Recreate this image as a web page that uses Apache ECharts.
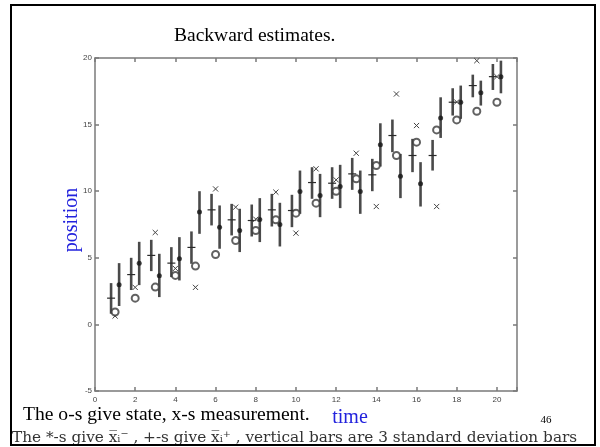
<!DOCTYPE html>
<html>
<head>
<meta charset="utf-8">
<script src="https://cdn.jsdelivr.net/npm/echarts@6/dist/echarts.min.js"></script>
<style>
  html, body { margin: 0; padding: 0; background: #fff; }
  #chart { width: 600px; height: 447px; }
</style>
</head>
<body>
<div id="chart"></div>
<script>
// Time steps
const time = [1, 2, 3, 4, 5, 6, 7, 8, 9, 10, 11, 12, 13, 14, 15, 16, 17, 18, 19, 20];
// True state (o) and measurements (x)
const stateO = [0.93, 1.97, 2.8, 3.68, 4.38, 5.25, 6.3, 7.05, 7.85, 8.35, 9.1, 10.0, 10.93, 11.93, 12.68, 13.68, 14.6, 15.35, 16.0, 16.68];
const measX = [0.63, 2.78, 6.9, 4.2, 2.78, 10.17, 8.8, 7.9, 9.93, 6.85, 11.68, 10.85, 12.85, 8.85, 17.3, 14.93, 8.85, 16.7, 19.8, 18.6];
// Estimates marked with + and their 3-sigma bar ends
const plusMean = [1.97, 3.74, 5.18, 4.6, 5.78, 8.6, 7.85, 7.8, 8.6, 8.55, 10.65, 10.6, 11.3, 11.23, 14.18, 12.68, 12.68, 16.68, 17.93, 18.6];
const plusLow = [0.8, 2.58, 4.0, 3.55, 4.55, 7.43, 6.68, 6.6, 7.35, 7.3, 9.43, 9.43, 10.1, 10.0, 12.93, 11.43, 11.55, 15.68, 17.05, 17.6];
const plusHigh = [3.1, 5.0, 6.35, 5.8, 6.98, 9.8, 9.05, 9.0, 9.8, 9.73, 11.8, 11.8, 12.5, 12.43, 15.38, 13.93, 13.85, 17.73, 18.75, 19.55];
// Estimates marked with * and their 3-sigma bar ends
const starMean = [2.98, 4.6, 3.66, 4.93, 8.43, 7.3, 7.05, 7.88, 7.5, 9.98, 9.68, 10.35, 9.98, 13.48, 11.13, 10.55, 15.5, 16.68, 17.4, 18.6];
const starLow = [1.38, 2.95, 2.05, 3.3, 6.8, 5.68, 5.43, 6.18, 5.85, 8.3, 8.05, 8.73, 8.3, 11.85, 9.48, 8.85, 14.0, 15.43, 16.43, 17.35];
const starHigh = [4.6, 6.2, 5.3, 6.55, 10.0, 8.93, 8.68, 9.48, 9.13, 11.55, 11.3, 11.98, 11.55, 15.1, 12.8, 12.18, 17.05, 17.93, 18.3, 19.8];
// Axis ticks
const xTicks = [0, 2, 4, 6, 8, 10, 12, 14, 16, 18, 20];
const yTicks = [-5, 0, 5, 10, 15, 20];

const shift = 0.2; // + and * columns sit either side of each time step

const barColor = '#4a4a4a';
const markColor = '#2a2a2a';

function barItem(params, api) {
  const p1 = api.coord([api.value(0), api.value(1)]);
  const p2 = api.coord([api.value(0), api.value(2)]);
  return { type: 'line', shape: { x1: p1[0], y1: p1[1], x2: p2[0], y2: p2[1] },
           style: { stroke: barColor, lineWidth: 2.6 } };
}
function plusItem(params, api) {
  const c = api.coord([api.value(0), api.value(1)]);
  return { type: 'line', shape: { x1: c[0] - 4, y1: c[1], x2: c[0] + 4, y2: c[1] },
           style: { stroke: markColor, lineWidth: 1.2 } };
}
function crossItem(params, api) {
  const c = api.coord([api.value(0), api.value(1)]);
  const r = 2.6;
  return { type: 'group', children: [
    { type: 'line', shape: { x1: c[0] - r, y1: c[1] - r, x2: c[0] + r, y2: c[1] + r }, style: { stroke: '#444', lineWidth: 1 } },
    { type: 'line', shape: { x1: c[0] - r, y1: c[1] + r, x2: c[0] + r, y2: c[1] - r }, style: { stroke: '#444', lineWidth: 1 } }
  ] };
}

const axisLineStyle = { color: '#7a7a7a', width: 1.5 };
const labelStyle = { fontFamily: 'Liberation Sans', fontSize: 8, color: '#444' };

function frameAxis(extra) {
  return Object.assign({
    type: 'value',
    axisLine: { show: true, onZero: false, lineStyle: axisLineStyle },
    axisTick: { show: true, inside: true, length: 4, lineStyle: axisLineStyle },
    splitLine: { show: false }
  }, extra);
}

const option = {
  animation: false,
  backgroundColor: '#fff',
  grid: { left: 95, right: 83, top: 58, bottom: 56 },
  xAxis: [
    frameAxis({ min: 0, max: 21, interval: 2, position: 'bottom',
      axisLabel: Object.assign({ margin: 5, formatter: v => xTicks.includes(v) ? String(v) : '' }, labelStyle) }),
    frameAxis({ min: 0, max: 21, interval: 2, position: 'top', axisLabel: { show: false } })
  ],
  yAxis: [
    frameAxis({ min: -5, max: 20, interval: 5, position: 'left',
      axisLabel: Object.assign({ margin: 3, formatter: v => yTicks.includes(v) ? String(v) : '' }, labelStyle) }),
    frameAxis({ min: -5, max: 20, interval: 5, position: 'right', axisLabel: { show: false } })
  ],
  series: [
    { type: 'custom', renderItem: barItem, encode: { x: 0, y: [1, 2] },
      data: time.map((t, i) => [t - shift, plusLow[i], plusHigh[i]]) },
    { type: 'custom', renderItem: barItem, encode: { x: 0, y: [1, 2] },
      data: time.map((t, i) => [t + shift, starLow[i], starHigh[i]]) },
    { type: 'custom', renderItem: plusItem, encode: { x: 0, y: 1 },
      data: time.map((t, i) => [t - shift, plusMean[i]]) },
    { type: 'scatter', symbol: 'circle', symbolSize: 5,
      itemStyle: { color: '#151515' },
      data: time.map((t, i) => [t + shift, starMean[i]]) },
    { type: 'scatter', symbol: 'emptyCircle', symbolSize: 7,
      itemStyle: { color: '#3a3a3a', borderColor: '#3a3a3a', borderWidth: 1.2 },
      data: time.map((t, i) => [t, stateO[i]]) },
    { type: 'custom', renderItem: crossItem, encode: { x: 0, y: 1 },
      data: time.map((t, i) => [t, measX[i]]) }
  ],
  graphic: [
    { type: 'rect', shape: { x: 11, y: 5, width: 584, height: 440 },
      style: { fill: 'none', stroke: '#000', lineWidth: 2 }, z: 100 },
    { type: 'text', x: 174, y: 36,
      style: { text: 'Backward estimates.', font: '19.5px "Liberation Serif"', fill: '#000', verticalAlign: 'middle' } },
    { type: 'text', x: 72, y: 220, rotation: Math.PI / 2,
      style: { text: 'position', font: '20px "Liberation Serif"', fill: '#2222dd', align: 'center', verticalAlign: 'middle' } },
    { type: 'text', x: 350, y: 418,
      style: { text: 'time', font: '20px "Liberation Serif"', fill: '#2222dd', align: 'center', verticalAlign: 'middle' } },
    { type: 'text', x: 23, y: 415,
      style: { text: 'The o-s give state, x-s measurement.', font: '19.6px "Liberation Serif"', fill: '#000', verticalAlign: 'middle' } },
    { type: 'text', x: 546, y: 420,
      style: { text: '46', font: '11px "Liberation Serif"', fill: '#000', align: 'center', verticalAlign: 'middle' } },
    { type: 'text', x: 12, y: 438,
      style: { text: 'The *-s give x\u0305\u1d62\u207b , +-s give x\u0305\u1d62\u207a , vertical bars are 3 standard deviation bars',
               font: '15.3px "DejaVu Serif"', fill: '#333', verticalAlign: 'middle' } }
  ]
};

const chart = echarts.init(document.getElementById('chart'), null, { renderer: 'canvas' });
chart.setOption(option);
</script>
</body>
</html>
